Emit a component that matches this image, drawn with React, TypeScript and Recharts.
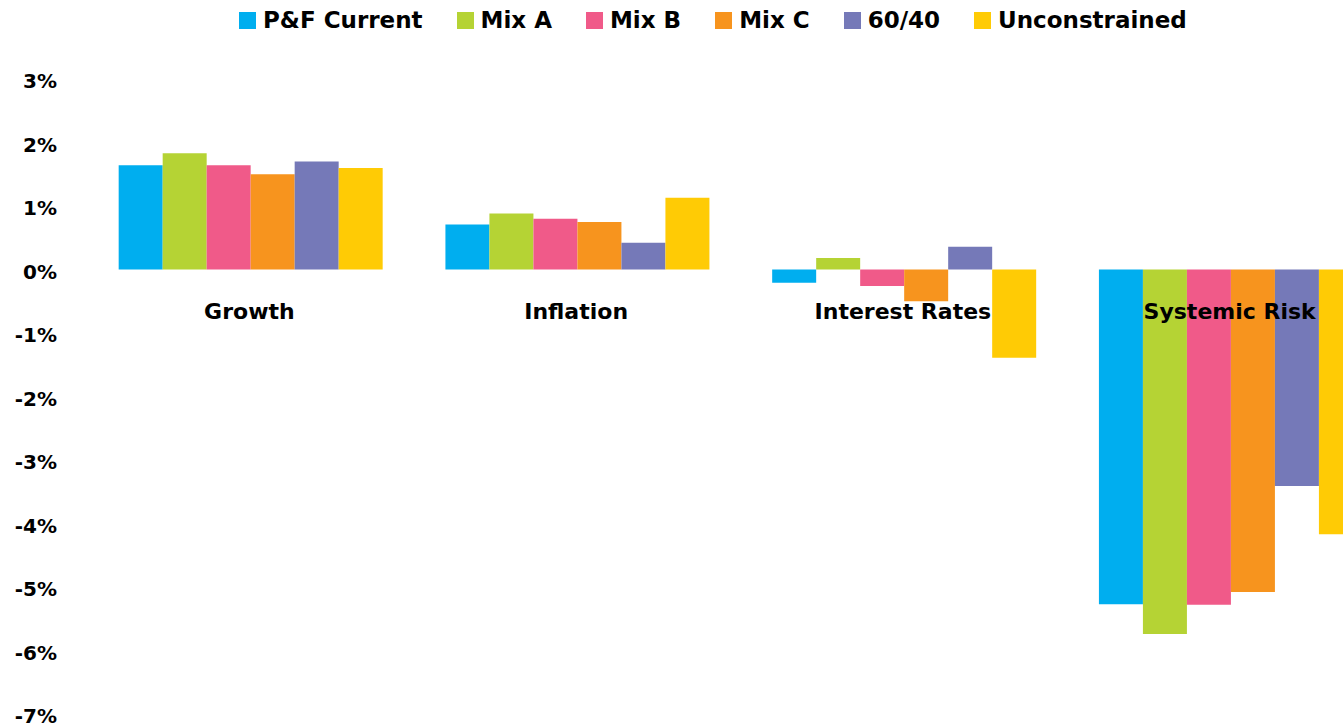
import React from 'react';
import { BarChart, Bar, XAxis, YAxis, Legend, ReferenceDot } from 'recharts';

const categories = ['Growth', 'Inflation', 'Interest Rates', 'Systemic Risk'];

const pfCurrent = [1.64, 0.71, -0.21, -5.27];
const mixA = [1.83, 0.88, 0.18, -5.74];
const mixB = [1.64, 0.8, -0.26, -5.28];
const mixC = [1.5, 0.75, -0.5, -5.08];
const sixtyForty = [1.7, 0.42, 0.36, -3.41];
const unconstrained = [1.6, 1.13, -1.39, -4.17];

const yTicks = [3, 2, 1, 0, -1, -2, -3, -4, -5, -6, -7];

const series = [
  { key: 'pf', name: 'P&F Current', color: '#00AEEF', values: pfCurrent },
  { key: 'mixA', name: 'Mix A', color: '#B5D334', values: mixA },
  { key: 'mixB', name: 'Mix B', color: '#F05A89', values: mixB },
  { key: 'mixC', name: 'Mix C', color: '#F7941E', values: mixC },
  { key: 'sixty', name: '60/40', color: '#7579B8', values: sixtyForty },
  { key: 'uncon', name: 'Unconstrained', color: '#FFCB05', values: unconstrained },
];

const data = categories.map((category, i) => {
  const row: Record<string, string | number> = { category };
  series.forEach((s) => {
    row[s.key] = s.values[i];
  });
  return row;
});

const FONT = '"DejaVu Sans", sans-serif';

// legend follows the series order (recharts would sort it by name)
function LegendContent() {
  return (
    <div
      style={{
        height: 79,
        display: 'flex',
        alignItems: 'flex-start',
        paddingLeft: 239,
        paddingTop: 7,
        boxSizing: 'border-box',
        fontFamily: FONT,
        fontWeight: 'bold',
        fontSize: 23,
        color: '#000',
      }}
    >
      {series.map((s) => (
        <div key={s.key} style={{ display: 'flex', alignItems: 'center', marginRight: 34 }}>
          <span style={{ width: 17, height: 17, background: s.color, marginRight: 7, display: 'inline-block' }} />
          <span style={{ lineHeight: '26px' }}>{s.name}</span>
        </div>
      ))}
    </div>
  );
}

function CategoryLabel({ viewBox, text }: any) {
  if (!viewBox) return null;
  const cx = viewBox.x + (viewBox.width || 0) / 2;
  const cy = viewBox.y + (viewBox.height || 0) / 2;
  return (
    <text
      x={cx}
      y={cy + 42}
      textAnchor="middle"
      dominantBaseline="central"
      fontFamily={FONT}
      fontWeight="bold"
      fontSize={22}
      fill="#000"
    >
      {text}
    </text>
  );
}

export default function App() {
  return (
    <div style={{ position: 'absolute', left: 0, top: 0, width: 1343, height: 727, overflow: 'hidden', background: '#fff' }}>
      <BarChart
        width={1393}
        height={727}
        data={data}
        margin={{ top: 0, right: 0, bottom: 13, left: 0 }}
        barGap={0}
        barCategoryGap="10%"
      >
        <XAxis dataKey="category" type="category" hide />
        <YAxis
          width={86}
          domain={[-7, 3]}
          ticks={yTicks}
          interval={0}
          axisLine={false}
          tickLine={false}
          tickMargin={23}
          tickFormatter={(v: number) => `${v}%`}
          tick={{ fontFamily: FONT, fontWeight: 'bold', fontSize: 20, fill: '#000', dy: 2 }}
        />
        <Legend verticalAlign="top" align="left" content={<LegendContent />} />
        {series.map((s) => (
          <Bar key={s.key} dataKey={s.key} name={s.name} fill={s.color} isAnimationActive={false} />
        ))}
        {categories.map((c) => (
          <ReferenceDot
            key={c}
            x={c}
            y={0}
            r={0}
            fill="none"
            stroke="none"
            label={<CategoryLabel text={c} />}
          />
        ))}
      </BarChart>
    </div>
  );
}
